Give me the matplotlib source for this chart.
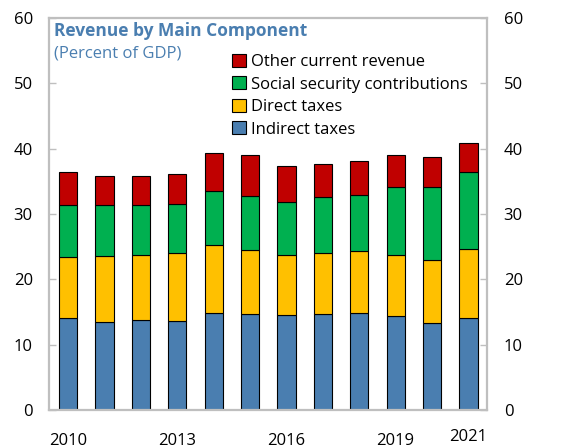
import numpy as np
import matplotlib
matplotlib.use('Agg')
import matplotlib.pyplot as plt
from matplotlib.patches import Patch

plt.rcParams['font.family'] = ['Open Sans', 'DejaVu Sans']

years = [2010, 2011, 2012, 2013, 2014, 2015, 2016, 2017, 2018, 2019, 2020, 2021]
indirect = [14.1, 13.5, 13.8, 13.7, 14.85, 14.7, 14.5, 14.7, 14.9, 14.4, 13.3, 14.1]
direct = [9.4, 10.1, 9.9, 10.3, 10.35, 9.8, 9.3, 9.4, 9.5, 9.3, 9.7, 10.6]
social = [7.9, 7.8, 7.7, 7.6, 8.3, 8.3, 8.1, 8.5, 8.5, 10.4, 11.2, 11.7]
other = [5.1, 4.4, 4.4, 4.5, 5.8, 6.2, 5.5, 5.1, 5.2, 5.0, 4.5, 4.4]

labels = ['Indirect taxes', 'Direct taxes', 'Social security contributions', 'Other current revenue']
colors = ['#4A7EB0', '#FFC000', '#00B050', '#C00000']
tick_years = [2010, 2013, 2016, 2019]

fig = plt.figure(figsize=(5.62, 4.45), dpi=100)
ax = fig.add_axes([0.088, 0.078, 0.7785, 0.8818])

x = np.arange(len(years))
bottom = np.zeros(len(years))
for vals, c, lab in zip([indirect, direct, social, other], colors, labels):
    ax.bar(x, vals, 0.5, bottom=bottom, color=c, edgecolor='black', linewidth=0.8, label=lab, zorder=2)
    bottom += np.array(vals)

ax.set_xlim(-0.51, 11.51)
ax.set_ylim(0, 60)
ax.set_yticks(range(0, 61, 10))
ax.tick_params(axis='y', direction='in', length=5, width=1, color='#BFBFBF',
               labelsize=12, pad=12, right=True, labelright=True)
ax.set_xticks([years.index(y) for y in tick_years])
ax.set_xticklabels([str(y) for y in tick_years])
ax.tick_params(axis='x', length=0, labelsize=12, pad=16)
ax.text(11, -2.8, '2021', ha='center', va='top', fontsize=12)

for s in ax.spines.values():
    s.set_color('#BFBFBF')
    s.set_linewidth(1.6)

ax.text(0.01, 0.99, 'Revenue by Main Component', transform=ax.transAxes,
        fontsize=12.5, fontweight='bold', color='#4A7EB0', va='top')
ax.text(0.01, 0.93, '(Percent of GDP)', transform=ax.transAxes,
        fontsize=12, color='#4A7EB0', va='top')

handles = [Patch(facecolor=c, edgecolor='black', linewidth=0.8) for c in colors][::-1]
leg = ax.legend(handles, labels[::-1], loc='upper left', bbox_to_anchor=(0.418, 0.908),
                frameon=False, fontsize=12, handlelength=0.8, handleheight=0.8,
                handletextpad=0.3, labelspacing=0.38, borderaxespad=0, borderpad=0)

fig.savefig('out.png', dpi=100)
